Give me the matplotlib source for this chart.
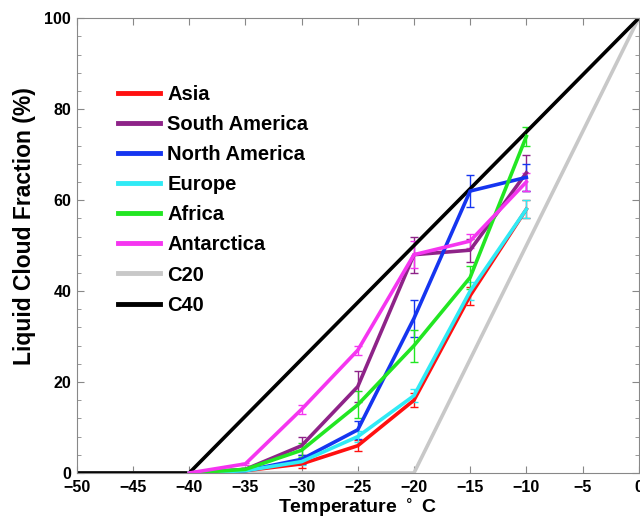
import matplotlib
matplotlib.use("Agg")
import matplotlib.pyplot as plt
from matplotlib.ticker import MultipleLocator
from matplotlib.lines import Line2D

plt.rcParams['font.family'] = ['Liberation Sans', 'DejaVu Sans']
plt.rcParams['font.weight'] = 'bold'

temps = [-40, -35, -30, -25, -20, -15, -10]
names = ["Asia", "South America", "North America", "Europe", "Africa", "Antarctica"]
asia = [0, 0.5, 2, 6, 16, 39, 58]
south_america = [0, 0.8, 6, 19, 48, 49, 66]
north_america = [0, 0.5, 3, 9.5, 34, 62, 65]
europe = [0, 0.5, 2.5, 8, 17, 40, 58]
africa = [0, 0.8, 5, 15, 28, 43, 74]
antarctica = [0, 2, 14, 27, 48, 51, 64]
asia_err = [0, 0.3, 0.8, 1.2, 1.5, 2, 2]
south_america_err = [0, 0.3, 2, 3.5, 4, 2.5, 4]
north_america_err = [0, 0.3, 1, 2, 4, 3.5, 3]
europe_err = [0, 0.3, 0.8, 1.2, 1.5, 2, 2]
africa_err = [0, 0.3, 1.5, 3, 3.5, 2.5, 2]
antarctica_err = [0, 0.3, 1, 1, 3, 1.5, 2]
c20_x = [-50, -20, 0]
c20_y = [0, 0, 100]
c40_x = [-50, -40, 0]
c40_y = [0, 0, 100]
xticks = [-50, -45, -40, -35, -30, -25, -20, -15, -10, -5, 0]
yticks = [0, 20, 40, 60, 80, 100]

series = [asia, south_america, north_america, europe, africa, antarctica]
errs = [asia_err, south_america_err, north_america_err, europe_err, africa_err, antarctica_err]
colors = ["#FF1010", "#8E2388", "#1535F0", "#30EAF5", "#22E622", "#F535F0"]
ref_names = ["C20", "C40"]
ref_colors = ["#C8C8C8", "black"]

fig = plt.figure(figsize=(6.4, 5.2), dpi=100)
ax = fig.add_axes([0.120, 0.0904, 0.878, 0.8746])

for name, ys, es, c in zip(names, series, errs, colors):
    ax.errorbar(temps, ys, yerr=es, color=c, lw=2.6, elinewidth=1.0,
                capsize=3, capthick=1.0)
ax.plot(c20_x, c20_y, color=ref_colors[0], lw=2.6)
ax.plot(c40_x, c40_y, color=ref_colors[1], lw=2.6)

ax.set_xlim(-50, 0)
ax.set_ylim(0, 100)
ax.set_xticks(xticks)
ax.set_yticks(yticks)
ax.yaxis.set_minor_locator(MultipleLocator(4))
ax.tick_params(axis='both', which='both', direction='in', top=True, right=True,
               color='#888888', labelsize=11.5)
ax.tick_params(axis='x', pad=5)
ax.tick_params(axis='y', pad=4)
ax.tick_params(which='major', length=5)
ax.tick_params(which='minor', length=3)
for s in ax.spines.values():
    s.set_color('#888888')
    s.set_linewidth(0.8)
ax.set_xlabel("Temperature $^\\circ$ C", fontsize=14, fontweight='bold', labelpad=1.5)
ax.set_ylabel("Liquid Cloud Fraction (%)", fontsize=16.5, fontweight='bold')
ax.yaxis.set_label_coords(-0.072, 0.543)

hs = [Line2D([0], [0], color=c, lw=3.5) for c in colors + ref_colors]
ax.legend(hs, names + ref_names, loc='upper left', bbox_to_anchor=(0.073, 0.853),
          frameon=False, borderpad=0, borderaxespad=0,
          handlelength=2.1, handletextpad=0.35, labelspacing=0.55,
          prop={'weight': 'bold', 'size': 14.5})

fig.savefig("out.png", dpi=100)
